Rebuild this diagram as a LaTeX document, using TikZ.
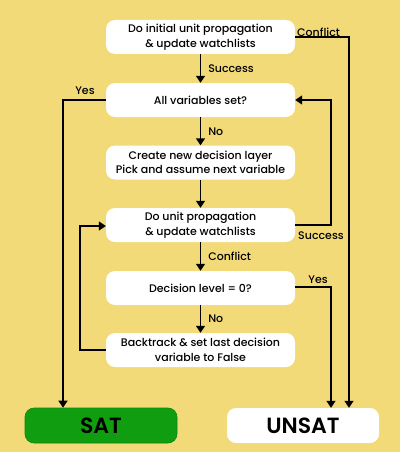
\documentclass[tikz,border=0pt]{standalone}
\usepackage{fontspec}
\setmainfont{Poppins}[UprightFont={* Medium},BoldFont={* SemiBold}]
\usetikzlibrary{arrows.meta}
\definecolor{bg}{HTML}{F2DA78}
\definecolor{satgreen}{HTML}{109E10}
\begin{document}
\begin{tikzpicture}[x=1pt,y=-1pt,
  box/.style={fill=white,rounded corners=9pt,minimum width=189pt,minimum height=34pt,align=center,font=\fontsize{11}{14.5}\selectfont,inner sep=0pt},
  endbox/.style={rounded corners=9pt,minimum width=152pt,minimum height=35pt,font=\fontsize{22}{24}\selectfont\bfseries,inner sep=0pt},
  lbl/.style={font=\fontsize{11}{12}\selectfont,inner sep=1pt},
  conn/.style={line width=1.5pt,-{Triangle[length=7pt,width=9pt]}}]
\fill[bg] (0,0) rectangle (400,452);
\node[box] (b1) at (200.5,37) {Do initial unit propagation\\\& update watchlists};
\node[box] (b2) at (200.5,100) {All variables set?};
\node[box] (b3) at (200.5,162.5) {Create new decision layer\\Pick and assume next variable};
\node[box] (b4) at (200.5,225) {Do unit propagation\\\& update watchlists};
\node[box] (b5) at (200.5,288) {Decision level = 0?};
\node[box] (b6) at (200.5,350) {Backtrack \& set last decision\\variable to False};
\node[endbox,fill=satgreen,draw=satgreen!85!black,line width=0.6pt] (sat) at (101,425.5) {SAT};
\node[endbox,fill=white] (unsat) at (303,425.5) {UNSAT};

\coordinate (c1a) at (349,37);
\coordinate (y1) at (63,100);
\coordinate (s1) at (331,225);
\coordinate (s2) at (331,100);
\coordinate (ye1) at (331,287);
\coordinate (bt1) at (80,350);
\coordinate (bt2) at (80,226);

\draw[conn] (b1) -- node[lbl,right=6pt]{Success} (b2);
\draw[conn] (b2) -- node[lbl,right=6pt]{No} (b3);
\draw[conn] (b3) -- (b4);
\draw[conn] (b4) -- node[lbl,right=6pt]{Conflict} (b5);
\draw[conn] (b5) -- node[lbl,right=6pt]{No} (b6);

\draw[conn] (b1.east) -- (c1a) -- (c1a |- unsat.north);
\node[lbl,anchor=south west] (lc) at (296,38) {Conflict};
\draw[conn] (b2.west) -- (y1) -- (y1 |- sat.north);
\node[lbl] (ly) at (85,91) {Yes};
\draw[conn] (b4.east |- s1) -- (s1) -- (s2) -- (b2.east);
\node[lbl] (ls) at (321,236) {Success};
\draw[conn] (b5.east |- ye1) -- (ye1) -- (ye1 |- unsat.north);
\node[lbl] (lye) at (318,280) {Yes};
\draw[conn] (b6.west) -- (bt1) -- (bt2) -- (b4.west |- bt2);
\end{tikzpicture}
\end{document}
